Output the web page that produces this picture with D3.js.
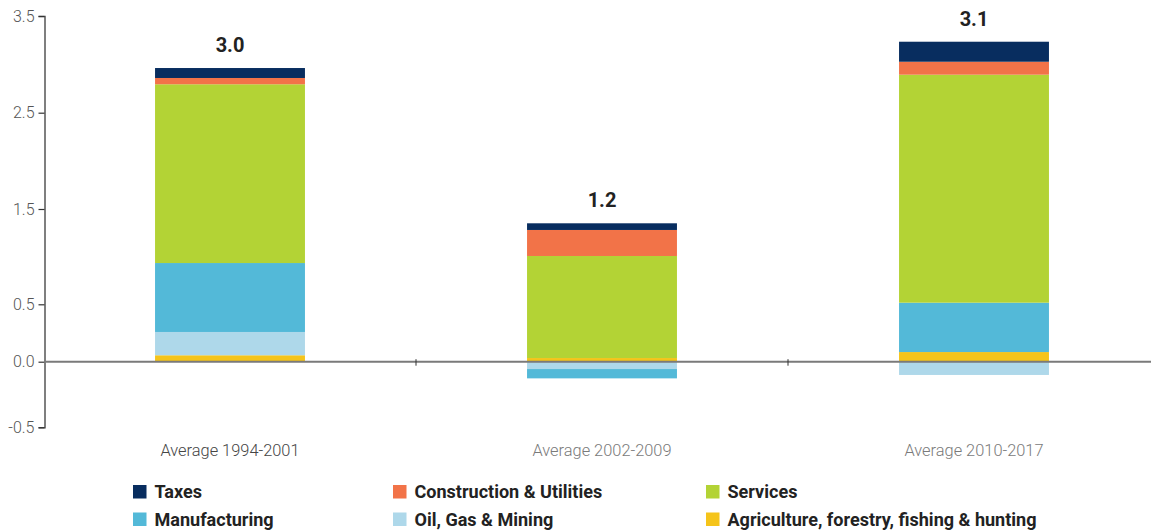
<!DOCTYPE html>
<html>
<head>
<meta charset="utf-8">
<script src="https://cdn.jsdelivr.net/npm/d3@7/dist/d3.min.js"></script>
<style>
  html, body { margin: 0; padding: 0; background: #fff; }
  svg { display: block; font-family: Roboto, "Noto Sans", sans-serif; }
</style>
</head>
<body>
<svg id="chart" width="1151" height="531"></svg>
<script>
// Contribution to growth by sector, percentage points
const categories = ["Average 1994-2001", "Average 2002-2009", "Average 2010-2017"];
const categoryColors = ["#454545", "#7a7a7a", "#7a7a7a"];

const sectors = ["Agriculture, forestry, fishing & hunting", "Oil, Gas & Mining", "Manufacturing",
                 "Services", "Construction & Utilities", "Taxes"];
const sectorColors = ["#f5c41a", "#aed8ea", "#53b9d8", "#b3d335", "#f27348", "#082d5f"];

const agriculture  = [0.056, 0.032, 0.084];
const oilGasMining = [0.203, -0.056, -0.101];
const manufacturing = [0.674, -0.071, 0.433];
const services     = [1.861, 0.975, 2.376];
const construction = [0.065, 0.273, 0.134];
const taxes        = [0.103, 0.070, 0.207];

const totals = [3.0, 1.2, 3.1];

const yTicks = [-0.5, 0.0, 0.5, 1.5, 2.5, 3.5];

// Legend layout: rows of three, read left to right
const legendOrder = ["Taxes", "Construction & Utilities", "Services",
                     "Manufacturing", "Oil, Gas & Mining", "Agriculture, forestry, fishing & hunting"];

const seriesValues = [agriculture, oilGasMining, manufacturing, services, construction, taxes];
const rows = categories.map((c, i) => {
  const r = { category: c };
  sectors.forEach((s, k) => r[s] = seriesValues[k][i]);
  return r;
});

const svg = d3.select("#chart");

const x = d3.scaleBand()
  .domain(categories)
  .range([44, 1160])
  .paddingInner(0.597)
  .paddingOuter(0.2985);

// The value axis is drawn with uneven spacing between its labelled ticks
const y = d3.scaleLinear()
  .domain(yTicks)
  .range([427.3, 361.7, 304.3, 209, 112.7, 16]);

const color = d3.scaleOrdinal().domain(sectors).range(sectorColors);

const stack = d3.stack().keys(sectors).offset(d3.stackOffsetDiverging);
const stacked = stack(rows);

// Bars
svg.append("g")
  .selectAll("g")
  .data(stacked)
  .join("g")
    .attr("fill", d => color(d.key))
  .selectAll("rect")
  .data(d => d)
  .join("rect")
    .attr("x", d => x(d.data.category))
    .attr("width", x.bandwidth())
    .attr("y", d => y(Math.max(d[0], d[1])))
    .attr("height", d => Math.abs(y(d[0]) - y(d[1])));

// Y axis
const yAxis = svg.append("g")
  .attr("transform", "translate(44.5,0)")
  .call(d3.axisLeft(y).tickValues(yTicks).tickFormat(d => d.toFixed(1)).tickSizeOuter(0).tickSize(6));
yAxis.select(".domain").attr("stroke", "#555").attr("stroke-width", 1.5);
yAxis.selectAll(".tick line").attr("stroke", "#333").attr("stroke-width", 1.2);
yAxis.selectAll(".tick text")
  .attr("x", -10)
  .attr("fill", "#555")
  .style("font-size", "16px")
  .style("font-weight", 300)
  .style("font-family", "Roboto, sans-serif");

// Zero line with dividers between categories
const zeroY = y(0);
svg.append("line")
  .attr("x1", 44).attr("x2", 1151)
  .attr("y1", zeroY).attr("y2", zeroY)
  .attr("stroke", "#7a7a7a").attr("stroke-width", 2);

const dividers = categories.slice(0, -1).map(c => x(c) + x.bandwidth() + (x.step() - x.bandwidth()) / 2);
svg.append("g").selectAll("line")
  .data(dividers)
  .join("line")
    .attr("x1", d => d).attr("x2", d => d)
    .attr("y1", zeroY - 2.5).attr("y2", zeroY + 4)
    .attr("stroke", "#333").attr("stroke-width", 1);

// Category labels
svg.append("g").selectAll("text")
  .data(categories)
  .join("text")
    .attr("x", d => x(d) + x.bandwidth() / 2)
    .attr("y", 456)
    .attr("text-anchor", "middle")
    .attr("fill", (d, i) => categoryColors[i])
    .style("font-size", "16.4px")
    .style("font-weight", 300)
    .text(d => d);

// Total labels above the positive stack
const positiveTop = rows.map(r => d3.sum(sectors, s => Math.max(0, r[s])));
svg.append("g").selectAll("text")
  .data(categories)
  .join("text")
    .attr("x", d => x(d) + x.bandwidth() / 2)
    .attr("y", (d, i) => y(positiveTop[i]) - 16)
    .attr("text-anchor", "middle")
    .attr("fill", "#222")
    .style("font-size", "20px")
    .style("font-weight", 700)
    .text((d, i) => d3.format(".1f")(totals[i]));

// Legend
const legendCols = [133, 393, 706];
const legendRows = [485, 512.5];
const legend = svg.append("g")
  .selectAll("g")
  .data(legendOrder)
  .join("g")
    .attr("transform", (d, i) => `translate(${legendCols[i % 3]},${legendRows[Math.floor(i / 3)]})`);
legend.append("rect")
  .attr("width", 13.5).attr("height", 13.5)
  .attr("fill", d => color(d));
legend.append("text")
  .attr("transform", "translate(21.5,13.3) scale(0.95,1)")
  .attr("fill", "#222")
  .style("font-size", "19px")
  .style("font-weight", 700)
  .text(d => d);
</script>
</body>
</html>
